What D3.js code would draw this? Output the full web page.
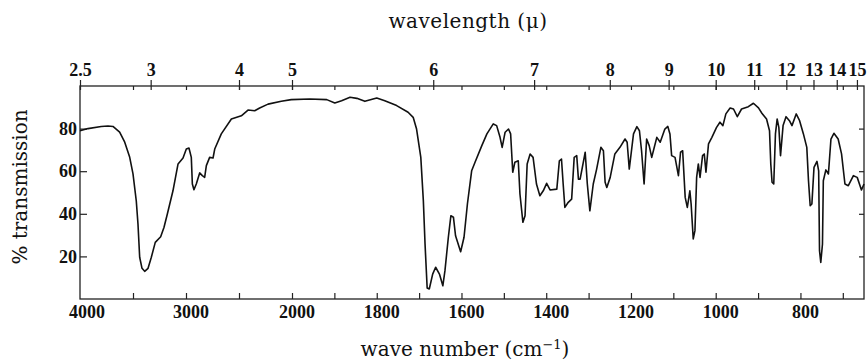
<!DOCTYPE html>
<html>
<head>
<meta charset="utf-8">
<script src="https://cdn.jsdelivr.net/npm/d3@7"></script>
<style>
body{margin:0;background:#fff;}
text{font-family:"DejaVu Serif",serif;fill:#111;}
.num{font-family:"Liberation Serif",serif;font-weight:bold;font-size:18px;}
</style>
</head>
<body>
<div id="chart"></div>
<script>
// spectrum
var waveNumber=[4000,3925,3800,3736,3689,3626,3578,3531,3500,3469,3453,3437,3415,3390,3358,3327,3290,3239,3208,3176,3123,3075,3028,2997,2972,2950,2940,2925,2903,2871,2846,2824,2808,2777,2745,2729,2667,2572,2478,2415,2352,2305,2226,2101,2007,
1958,1918,1899,1883,1863,1847,1828,1800,1781,1753,1726,1714,1706,1696,1690,1686,1681,1676,1668,1661,1652,1644,1639,1631,1625,1619,1614,1602,1594,1586,1576,1568,1552,1540,1525,1517,1509,1504,1497,1489,1484,1479,1474,1466,1462,1455,1450,1445,1438,1431,1423,1415,1407,1399,1391,1375,1369,1364,1360,1356,1348,1340,1334,1328,1324,1320,1308,1303,1297,1289,1281,1271,1265,1261,1257,1249,1238,1226,1214,1209,1204,1194,1186,1180,1175,1169,1163,1157,1151,1146,1139,1131,1120,1113,1108,1104,1096,1088,1083,1078,1072,1067,1061,1058,1053,1049,1045,1041,1037,1031,1027,1023,1017,1009,998,990,983,976,966,958,949,939,923,911,899,891,880,873,870,867,863,859,855,851,847,841,834,826,820,810,802,793,785,781,777,773,768,761,757,755,752,748,746,740,734,728,721,711,703,695,687,675,666,656,650];
var transmission=[79,80,81,81.2,81,78.3,73.6,66.5,58.7,46,35.2,19.6,14.4,13,14.4,19.6,26.6,29.2,33.6,39.9,50.8,63.4,66.2,70.4,70.9,66.5,54,51.3,54,59.2,57.9,57.1,62.6,66.5,66.2,70.4,77.5,84.5,86,88.7,88.4,89.7,91.5,92.8,93.6,
93.9,93.6,92,93.1,94.7,94.2,92.8,94.4,93.1,90.8,87.7,85.3,79.8,66.5,46.2,25.8,5.2,4.7,11.7,14.9,11.7,6.2,13.3,29,39.1,38.4,29.7,22.2,29,44.6,60.2,64.2,72,77.5,82.2,81.4,75.9,71.2,78.3,79.8,77.5,59.5,64.2,64.9,49.3,36,39.1,63.4,68.1,66.5,54,48.5,50.8,54.3,51.2,51.6,64.9,65.7,54,43,45.4,46.9,66.5,67.3,56.3,56.3,68.9,54,41.4,54,61,71.2,69.6,54.8,52.4,57.1,68.1,71.2,75.1,73.6,61,77.5,80.9,79,69.6,54,75.1,72,66.5,70.4,75.9,73.6,79.8,81,77.5,67.3,66.5,57.9,68.9,69.6,47.7,43,50.8,44.6,28.2,32.1,57.1,63.4,57.1,67.3,68.1,59.5,72.8,75.9,80.6,83,81.4,86.9,89.7,89.2,85.6,89.2,90.3,91.9,89.7,87.2,84.5,79,63.4,54.8,54,77.5,84.5,80.6,67.3,81.4,85.6,83.7,81.4,86.9,83.7,77.5,71.2,55.5,43.8,44.6,61.8,64.6,60.2,22.7,17.2,25.8,55.5,60.6,58.7,75.1,77.8,75.1,68.1,54,53.2,57.9,57.1,51.2,54];

var bottomTicks=[4000,3000,2000,1800,1600,1400,1200,1000,800];
var minorTicks=[3500,3000,2500,2000,1900,1800,1700,1600,1500,1400,1300,1200,1100,1000,900,800,700];
var wavelengths=[2.5,3,4,5,6,7,8,9,10,11,12,13,14,15];
var yTicks=[20,40,60,80];

var width=868,height=363;
var marge={left:80,right:864,top:86,bottom:299};

var svg=d3.select("#chart").append("svg")
    .attr("width",width)
    .attr("height",height);

// grating change at 2000: two linear pieces
var x=d3.scaleLinear()
    .domain([4000,2000,650])
    .range([marge.left,292,marge.right]);
var y=d3.scaleLinear()
    .domain([0,100])
    .range([marge.bottom,marge.top]);

// frame
svg.append("rect")
    .attr("x",marge.left).attr("y",marge.top)
    .attr("width",marge.right-marge.left).attr("height",marge.bottom-marge.top)
    .attr("fill","none").attr("stroke","#222").attr("stroke-width",1.3);

// bottom axis: labels, ticks pointing in
var gb=svg.append("g").attr("transform","translate(0,"+marge.bottom+")");
gb.call(d3.axisBottom(x).tickValues(minorTicks).tickSize(-6).tickFormat(""));
gb.selectAll(".lbl").data(bottomTicks).enter().append("text")
    .attr("class","lbl num")
    .attr("x",function(d){return x(d)+(d==4000?7:5);})
    .attr("y",19)
    .attr("text-anchor","middle")
    .text(function(d){return d;});

// top axis: wave number ticks inside, wavelength ticks across
var gt=svg.append("g").attr("transform","translate(0,"+marge.top+")");
gt.call(d3.axisTop(x).tickValues(minorTicks).tickSize(-4).tickFormat(""));
var gw=svg.append("g").attr("transform","translate(0,"+marge.top+")");
gw.call(d3.axisTop(x).tickValues(wavelengths.map(function(w){return 1e4/w;}))
    .tickSize(6).tickPadding(4)
    .tickFormat(function(d){return +(1e4/d).toFixed(1);}));
gw.selectAll(".tick line").attr("y2",-6).attr("y1",4);
gw.selectAll(".tick text").attr("class","num");

// left and right ticks
var gl=svg.append("g").attr("transform","translate("+marge.left+",0)");
gl.call(d3.axisLeft(y).tickValues(yTicks).tickSize(-7).tickPadding(3));
gl.selectAll(".tick text").attr("class","num");
var gr=svg.append("g").attr("transform","translate("+marge.right+",0)");
gr.call(d3.axisRight(y).tickValues(yTicks).tickSize(-5).tickFormat(""));

svg.selectAll("g").attr("font-family",null).attr("font-size",null);
svg.selectAll(".domain").remove();
svg.selectAll(".tick line").attr("stroke","#222").attr("stroke-width",1.2);

// spectrum trace
var points=waveNumber.map(function(d,i){return [d,transmission[i]];});
var line=d3.line()
    .x(function(d){return x(d[0]);})
    .y(function(d){return y(d[1]);});
svg.append("path")
    .datum(points)
    .attr("d",line)
    .attr("fill","none")
    .attr("stroke","#111")
    .attr("stroke-width",1.6)
    .attr("stroke-linejoin","round");

// titles
svg.append("text")
    .attr("x",468).attr("y",28)
    .attr("text-anchor","middle")
    .attr("font-size","20px")
    .attr("letter-spacing","0.5")
    .text("wavelength (\u03bc)");
svg.append("text")
    .attr("x",465).attr("y",356)
    .attr("text-anchor","middle")
    .attr("font-size","20px")
    .html("wave number (cm<tspan dy='-7' font-size='13px'>\u22121</tspan><tspan dy='7'>)</tspan>");
svg.append("text")
    .attr("transform","translate(27,187) rotate(-90)")
    .attr("text-anchor","middle")
    .attr("font-size","20px")
    .text("% transmission");
</script>
</body>
</html>
